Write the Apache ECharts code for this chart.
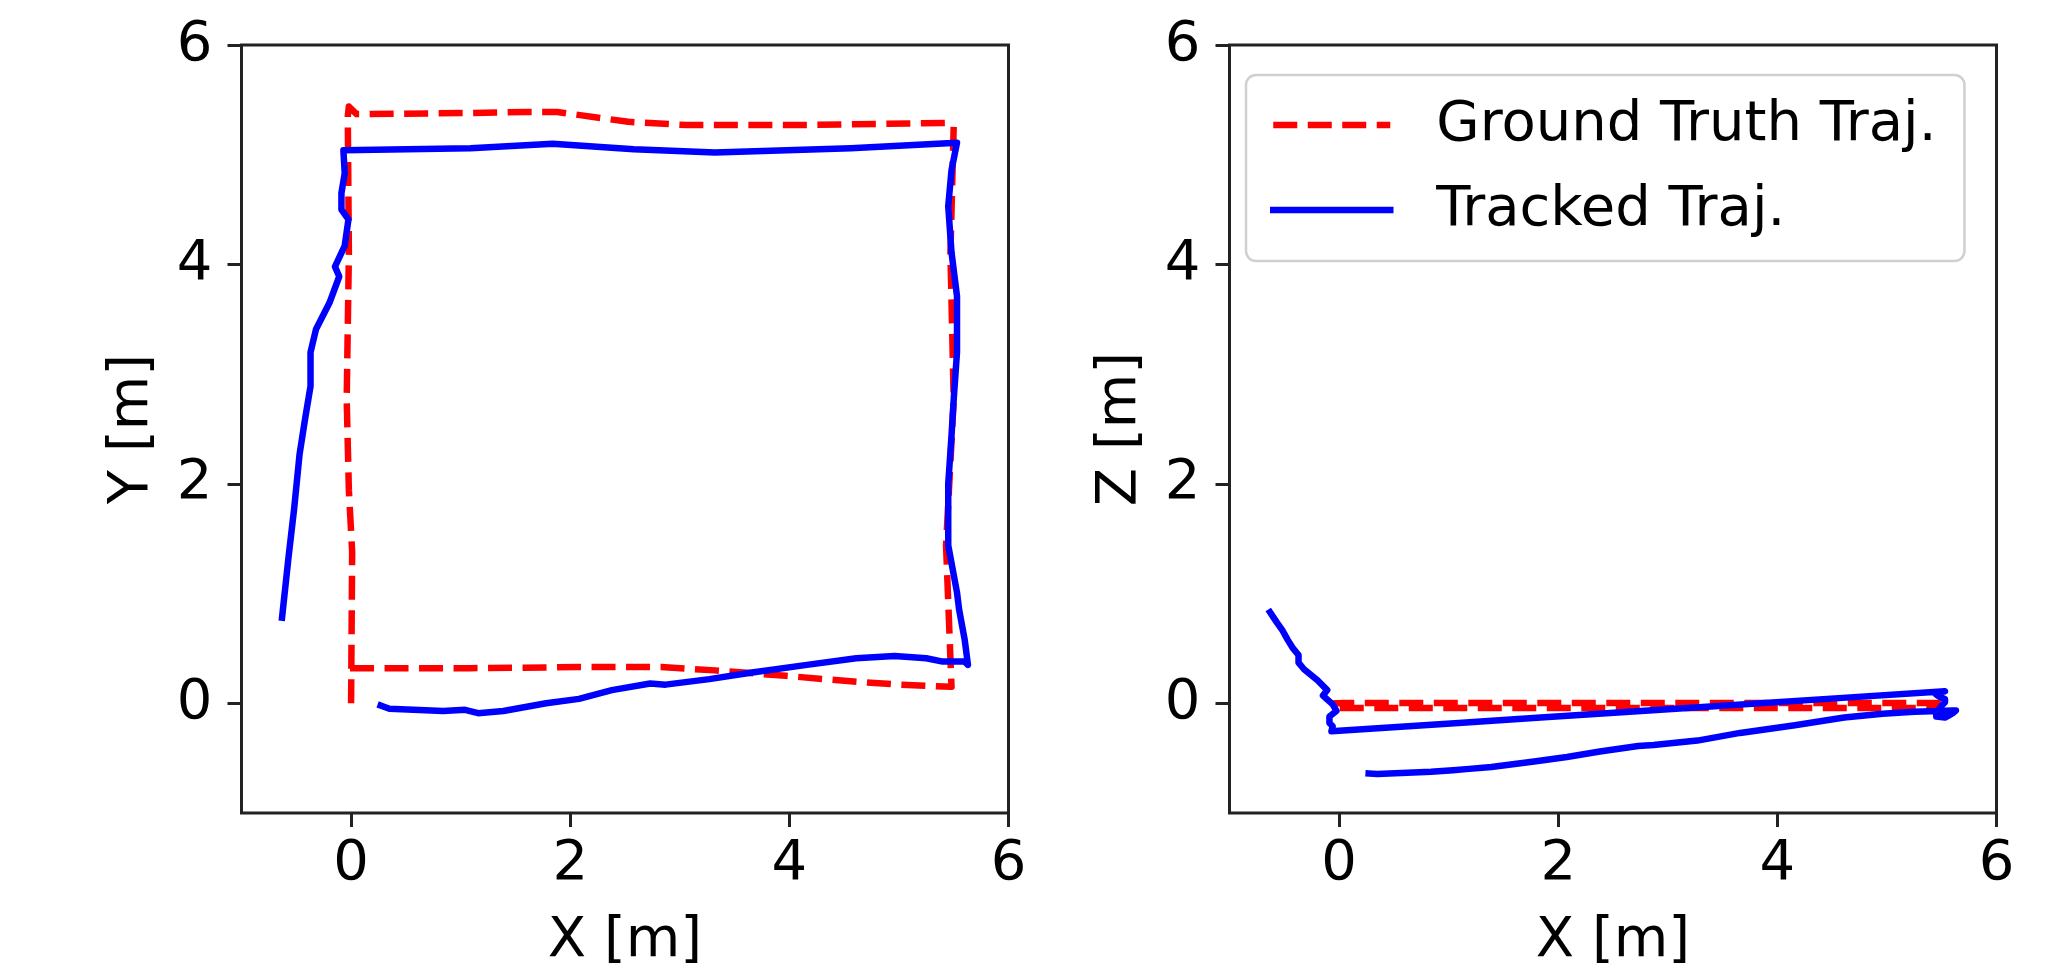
<!DOCTYPE html>
<html>
<head>
<meta charset="utf-8">
<title>Trajectory</title>
<script src="https://cdn.jsdelivr.net/npm/echarts@6/dist/echarts.min.js"></script>
<style>
html, body { margin: 0; padding: 0; background: #fff; }
#chart_div { width: 2055px; height: 969px; }
</style>
</head>
<body>
<div id="chart_div"></div>
<script>
// ground truth trajectory
var gtX = [0.00, 0.01, -0.02, -0.04, -0.02, -0.03, -0.02, 0.05, 1.09, 1.59, 1.88, 2.53, 3.07, 4.07, 5.45,
	5.50, 5.47, 5.50, 5.43, 5.48, 5.00, 4.56, 3.97, 3.32, 2.83, 2.08, 1.09, 0.00, -0.08];
var gtY = [0.00, 1.38, 1.94, 2.77, 4.10, 5.35, 5.44, 5.37, 5.38, 5.39, 5.39, 5.30, 5.27, 5.27, 5.29,
	5.26, 4.10, 2.77, 1.44, 0.15, 0.17, 0.20, 0.25, 0.30, 0.33, 0.33, 0.32, 0.32, 0.32];
var gtZ = [0.00, 0.00, 0.00, 0.00, 0.00, 0.00, 0.00, 0.003, 0.003, 0.003, 0.003, 0.003, 0.003, 0.003, 0.003,
	0.00, -0.01, -0.02, -0.03, -0.043, -0.043, -0.043, -0.043, -0.043, -0.043, -0.043, -0.043, -0.043, -0.043];

// tracked trajectory
var trackedX = [0.27, 0.35, 0.84, 1.04, 1.16, 1.39, 1.78, 2.08, 2.38, 2.73, 2.87, 3.27, 3.66, 4.16, 4.61, 4.96, 5.25, 5.40, 5.60, 5.63,
	5.60, 5.55, 5.53, 5.45, 5.45, 5.48, 5.50, 5.53, 5.53, 5.48, 5.45, 5.48, 5.53,
	4.56, 3.32, 2.58, 1.84, 1.09, -0.07,
	-0.058, -0.088, -0.088, -0.024, -0.058, -0.147, -0.108, -0.197, -0.32, -0.37, -0.37, -0.42, -0.47, -0.52, -0.57, -0.63];
var trackedY = [-0.02, -0.05, -0.07, -0.06, -0.09, -0.07, 0.00, 0.04, 0.12, 0.18, 0.17, 0.22, 0.28, 0.35, 0.41, 0.43, 0.41, 0.38, 0.38, 0.35,
	0.58, 0.85, 1.01, 1.44, 2.00, 2.44, 2.77, 3.20, 3.71, 4.11, 4.53, 4.86, 5.11,
	5.06, 5.02, 5.05, 5.10, 5.06, 5.04,
	4.83, 4.65, 4.50, 4.41, 4.17, 3.98, 3.89, 3.65, 3.41, 3.20, 2.89, 2.59, 2.27, 1.77, 1.34, 0.78];
var trackedZ = [-0.64, -0.645, -0.625, -0.61, -0.60, -0.58, -0.53, -0.49, -0.44, -0.39, -0.38, -0.34, -0.27, -0.20, -0.13, -0.095, -0.078, -0.072, -0.066, -0.065,
	-0.09, -0.12, -0.13, -0.12, -0.08, -0.05, -0.02, 0.01, 0.04, 0.06, 0.08, 0.10, 0.11,
	0.047, -0.034, -0.082, -0.13, -0.18, -0.255,
	-0.21, -0.18, -0.12, -0.07, -0.01, 0.07, 0.12, 0.21, 0.31, 0.37, 0.44, 0.50, 0.58, 0.67, 0.74, 0.83];

var tickValues = [0, 2, 4, 6];
var axisMin = -1;
var axisMax = 6;

var FONT = 'DejaVu Sans';
var chart = echarts.init(document.getElementById('chart_div'));

function pairs(xs, ys){
	var out = [];
	for (var i = 0; i < xs.length; i++) {
		out.push([xs[i], ys[i]]);
	}
	return out;
}

function makeAxis(gridIndex, name, isY){
	return {
		type: 'value',
		gridIndex: gridIndex,
		min: axisMin,
		max: axisMax,
		name: name,
		nameLocation: 'middle',
		nameGap: isY ? 81 : 100,
		nameTextStyle: { fontFamily: FONT, fontSize: 56, color: '#000' },
		axisLine: { show: false, onZero: false },
		axisTick: {
			show: true,
			length: 14,
			customValues: tickValues,
			lineStyle: { color: '#222', width: 3 }
		},
		axisLabel: {
			margin: isY ? 29 : 23,
			padding: isY ? [8, 0, 0, 0] : 0,
			customValues: tickValues,
			fontFamily: FONT,
			fontSize: 56,
			color: '#000'
		},
		splitLine: { show: false }
	};
}

function makeSeries(name, idx, xs, ys, color, dashed){
	return {
		name: name,
		type: 'line',
		xAxisIndex: idx,
		yAxisIndex: idx,
		data: pairs(xs, ys),
		symbol: 'none',
		showSymbol: false,
		smooth: false,
		clip: true,
		lineStyle: {
			color: color,
			width: 6.5,
			type: dashed ? [24, 10.5] : 'solid',
			cap: dashed ? 'butt' : 'square',
			join: 'round'
		},
		itemStyle: { color: color }
	};
}

var gridStyle = {
	show: true,
	borderColor: '#222',
	borderWidth: 3,
	backgroundColor: '#fff',
	containLabel: false,
	outerBoundsMode: 'none'
};

var option = {
	animation: false,
	backgroundColor: '#fff',
	grid: [
		Object.assign({ left: 241.5, top: 45, width: 767, height: 768 }, gridStyle),
		Object.assign({ left: 1229.5, top: 45, width: 767, height: 768 }, gridStyle)
	],
	xAxis: [makeAxis(0, 'X [m]', false), makeAxis(1, 'X [m]', false)],
	yAxis: [makeAxis(0, 'Y [m]', true), makeAxis(1, 'Z [m]', true)],
	legend: {
		orient: 'vertical',
		left: 1246,
		top: 75,
		padding: [22, 28, 23, 24],
		itemGap: 29,
		itemWidth: 117,
		itemHeight: 20,
		backgroundColor: 'rgba(255,255,255,0.8)',
		borderColor: '#d0d0d0',
		borderWidth: 2.5,
		borderRadius: 10,
		itemStyle: { opacity: 0 },
		lineStyle: { width: 6.5 },
		data: ['Ground Truth Traj.', 'Tracked Traj.'],
		textStyle: {
			fontFamily: FONT,
			fontSize: 56,
			color: '#000',
			padding: [0, 0, 0, 41]
		}
	},
	series: [
		makeSeries('Ground Truth Traj.', 0, gtX, gtY, '#ff0000', true),
		makeSeries('Tracked Traj.', 0, trackedX, trackedY, '#0000ff', false),
		makeSeries('Ground Truth Traj.', 1, gtX, gtZ, '#ff0000', true),
		makeSeries('Tracked Traj.', 1, trackedX, trackedZ, '#0000ff', false)
	]
};

chart.setOption(option);
</script>
</body>
</html>
